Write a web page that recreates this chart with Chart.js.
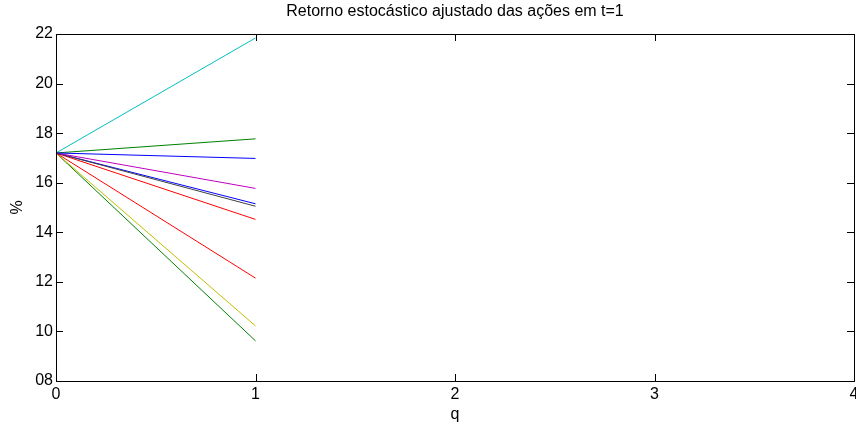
<!DOCTYPE html>
<html lang="pt">
<head>
<meta charset="UTF-8">
<title>Retorno estocástico ajustado</title>
<script src="https://cdn.jsdelivr.net/npm/chart.js"></script>
<style>
  html, body { margin: 0; padding: 0; background: #fff; }
  canvas { display: block; }
</style>
</head>
<body>
<canvas id="grafico" width="856" height="426"></canvas>
<script>
// dados
const q = [0, 1];
const retornoInicial = 17.2;
const retornoFinal = [16.98, 17.77, 12.15, 21.84, 15.77, 10.22, 15.05, 15.15, 9.62, 14.52];
const cores = ['#0000ff', '#008000', '#ff0000', '#00bfbf', '#bf00bf', '#bfbf00', '#404040', '#0000ff', '#008000', '#ff0000'];
const ticksX = [0, 1, 2, 3, 4];
const ticksY = [8, 10, 12, 14, 16, 18, 20, 22];

const fonte = { family: 'Arial, "Liberation Sans", sans-serif', size: 16 };

const datasets = retornoFinal.map((fim, i) => ({
    data: [{ x: q[0], y: retornoInicial }, { x: q[1], y: fim }],
    borderColor: cores[i],
    borderWidth: 1,
    pointRadius: 0,
    fill: false,
    tension: 0
}));

// moldura com marcas para dentro, como no MATLAB
const moldura = {
    id: 'moldura',
    afterDraw(chart) {
        const { ctx, chartArea: a, scales } = chart;
        const tam = 7;
        ctx.save();
        ctx.strokeStyle = '#000';
        ctx.lineWidth = 1;
        ctx.beginPath();
        ticksX.forEach(v => {
            const px = Math.round(scales.x.getPixelForValue(v)) + 0.5;
            ctx.moveTo(px, a.bottom);
            ctx.lineTo(px, a.bottom - tam);
            ctx.moveTo(px, a.top);
            ctx.lineTo(px, a.top + tam);
        });
        ticksY.forEach(v => {
            const py = Math.round(scales.y.getPixelForValue(v)) + 0.5;
            ctx.moveTo(a.left, py);
            ctx.lineTo(a.left + tam, py);
            ctx.moveTo(a.right, py);
            ctx.lineTo(a.right - tam, py);
        });
        ctx.stroke();
        ctx.strokeRect(Math.round(a.left) + 0.5, Math.round(a.top) + 0.5,
            Math.round(a.right - a.left), Math.round(a.bottom - a.top));
        ctx.restore();
    }
};

// sem margem extra para os rótulos das pontas
const semMargem = s => { s.paddingLeft = 0; s.paddingRight = 0; s.paddingTop = 0; s.paddingBottom = 0; };

new Chart(document.getElementById('grafico'), {
    type: 'line',
    data: { datasets },
    plugins: [moldura],
    options: {
        responsive: false,
        animation: false,
        layout: { padding: { right: 2 } },
        plugins: { legend: { display: false }, tooltip: { enabled: false } },
        scales: {
            x: {
                type: 'linear',
                min: 0, max: 4,
                afterBuildTicks: s => { s.ticks = ticksX.map(v => ({ value: v })); },
                afterFit: s => { s.height = 45; semMargem(s); },
                grid: { display: false, drawTicks: false },
                border: { display: false },
                ticks: { color: '#000', font: fonte, padding: 4 },
                title: { display: true, text: 'q', color: '#000', font: fonte, padding: { top: 0, bottom: 2 } }
            },
            topo: {
                type: 'linear',
                position: 'top',
                min: 0, max: 4,
                afterFit: s => { s.height = 34; semMargem(s); },
                grid: { display: false, drawTicks: false },
                border: { display: false },
                ticks: { display: false },
                title: { display: true, text: 'Retorno estocástico ajustado das ações em t=1', color: '#000', font: fonte, padding: { top: 2, bottom: 0 } }
            },
            y: {
                min: 8, max: 22,
                afterBuildTicks: s => { s.ticks = ticksY.map(v => ({ value: v })); },
                afterFit: s => { s.width = 56; semMargem(s); },
                grid: { display: false, drawTicks: false },
                border: { display: false },
                ticks: { color: '#000', font: fonte, padding: 3, callback: v => String(v).padStart(2, '0') },
                title: { display: true, text: '%', color: '#000', font: fonte, padding: { top: 8, bottom: 0 } }
            }
        }
    }
});
</script>
</body>
</html>
